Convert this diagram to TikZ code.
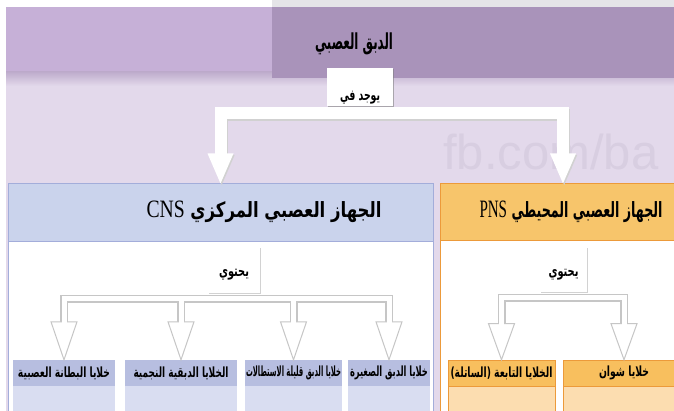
\documentclass[tikz,border=0pt]{standalone}
\usepackage{fontspec}
\usepackage{graphicx}
\setmainfont{Liberation Serif}
\newfontfamily\ar[Script=Arabic]{DejaVu Sans}
\newfontfamily\wmfont{Liberation Sans}
\TeXXeTstate=1
\usetikzlibrary{arrows.meta,shadows}
\definecolor{bg}{HTML}{E3D9EB}
\definecolor{bandL}{HTML}{C6B0D7}
\definecolor{bandR}{HTML}{A993BA}
\definecolor{bandshadow}{HTML}{B9A6C8}
\definecolor{topgrey}{HTML}{E5E4E8}
\definecolor{cnshead}{HTML}{CAD3EC}
\definecolor{cnsborder}{HTML}{A3ADDA}
\definecolor{pnshead}{HTML}{F7C56B}
\definecolor{pnsborder}{HTML}{EC9A3A}
\definecolor{cbox}{HTML}{B7BEE0}
\definecolor{cboxlow}{HTML}{D9DDF1}
\definecolor{pbox}{HTML}{F8BF5E}
\definecolor{pboxlow}{HTML}{FCDDB0}
\definecolor{wmark}{HTML}{D8CEE1}
\newcommand{\artxt}[3]{\resizebox{#1pt}{\height}{\fontsize{#2}{#2}\ar\bfseries\selectfont #3}}
\tikzset{
  hdr/.style={inner sep=0pt, text=black},
  labbox/.style={fill=white, inner sep=0pt, drop shadow={shadow xshift=1.2pt, shadow yshift=-0.8pt, opacity=0.35, fill=black!50}},
  cbx/.style={fill=cbox, inner sep=0pt, minimum height=26pt},
  pbx/.style={fill=pbox, draw=pnsborder, line width=0.6pt, inner sep=0pt, minimum height=26pt},
  bigw/.style={draw=white, line width=12pt},
  gpass/.style={draw=gray!45, line width=8pt},
  wpass/.style={draw=white, line width=5pt},
  tipc/.style={fill=white, draw=gray!45, line width=1pt, line join=miter}
}
\begin{document}
\begin{tikzpicture}[x=1pt,y=-1pt]
\useasboundingbox (0,0) rectangle (674,411);
% background
\fill[bg] (0,0) rectangle (674,411);
\fill[white] (0,0) rectangle (272,7);
\fill[topgrey] (272,0) rectangle (674,7);
\fill[white] (0,0) rectangle (6,411);
\shade[top color=bandshadow, bottom color=bg] (6,70) rectangle (674,86);
\fill[bandL] (6,7) rectangle (272,71);
\fill[bandR] (272,7) rectangle (674,78);
% watermark
\node[anchor=base west, inner sep=0pt, text=wmark, font=\wmfont\fontsize{49}{49}\selectfont] (wm) at (443,170) {fb.com/ba};
% title
\node[hdr] (title) at (354,44) {\artxt{78}{22}{\beginR الدبق العصبي\endR}};
% main boxes
\draw[cnsborder, fill=white, line width=1pt] (8,184) rectangle (433,420);
\node[fill=cnshead, draw=cnsborder, line width=1pt, minimum width=425pt, minimum height=58pt, inner sep=0pt] (cns) at (220.5,213) {};
\node[hdr] (cnst) at (264,212) {\artxt{235}{21}{\beginR الجهاز العصبي المركزي {\rmfamily\mdseries\fontsize{25}{25}\selectfont CNS}\endR}};
\draw[pnsborder, fill=white, line width=1pt] (440,184) rectangle (690,420);
\node[fill=pnshead, draw=pnsborder, line width=1pt, minimum width=246pt, minimum height=57pt, inner sep=0pt] (pns) at (563,212.5) {};
\node[hdr] (pnst) at (571,212) {\artxt{183}{21}{\beginR الجهاز العصبي المحيطي {\rmfamily\mdseries\fontsize{25}{25}\selectfont PNS}\endR}};
% bottom boxes
\fill[cboxlow] (13,386) rectangle (115,415);
\fill[cboxlow] (125,386) rectangle (237,415);
\fill[cboxlow] (245,386) rectangle (342,415);
\fill[cboxlow] (348,386) rectangle (430,415);
\filldraw[fill=pboxlow, draw=pnsborder, line width=0.6pt] (448,386) rectangle (555,415);
\filldraw[fill=pboxlow, draw=pnsborder, line width=0.6pt] (563,386) rectangle (685,415);
\node[cbx, minimum width=102pt] (b1) at (64,373) {\artxt{92}{14}{\beginR خلايا البطانة العصبية\endR}};
\node[cbx, minimum width=112pt] (b2) at (181,373) {\artxt{95}{14}{\beginR الخلايا الدبقية النجمية\endR}};
\node[cbx, minimum width=97pt] (b3) at (293.5,373) {\artxt{95}{14}{\beginR خلايا الدبق قليلة الاستطالات\endR}};
\node[cbx, minimum width=82pt] (b4) at (389,373) {\artxt{78}{14}{\beginR خلايا الدبق الصغيرة\endR}};
\node[pbx, minimum width=107pt] (b5) at (501.5,373) {\artxt{102}{14}{\beginR الخلايا التابعة (الساتلة)\endR}};
\node[pbx, minimum width=122pt] (b6) at (624,373) {\artxt{50}{14}{\beginR خلايا شوان\endR}};
% labels
\node[labbox, anchor=base, text height=33pt, text depth=5pt, minimum width=66pt] (yujad) at (360,101) {\artxt{40}{15}{\beginR يوجد في\endR}};
\node[labbox, anchor=base, text height=30pt, text depth=16pt, minimum width=52pt] (cnslab) at (234,277) {\artxt{30}{15}{\beginR يحتوي\endR}};
\node[labbox, anchor=base, text height=30pt, text depth=15pt, minimum width=47pt] (pnslab) at (563.5,277) {\artxt{30}{15}{\beginR يحتوي\endR}};
\coordinate (topbar) at (360,113.5);
\coordinate (cbar) at (234,299);
\coordinate (pbar) at (563.5,298);
% top arrows (shadow, then white)
\begin{scope}[transform canvas={xshift=1.2pt,yshift=-1.5pt}]
\draw[draw=black!18, line width=12pt] (yujad.south |- topbar) -| ([yshift=29pt]cns.north);
\draw[draw=black!18, line width=12pt] (yujad.south |- topbar) -| ([yshift=29pt]pns.north);
\fill[black!18] ([xshift=-13pt,yshift=30pt]cns.north) -- ([xshift=13pt,yshift=30pt]cns.north) -- (cns.north) -- cycle;
\fill[black!18] ([xshift=-13pt,yshift=30pt]pns.north) -- ([xshift=13pt,yshift=30pt]pns.north) -- (pns.north) -- cycle;
\end{scope}
\draw[bigw] (yujad.south |- topbar) -| ([yshift=29pt]cns.north);
\draw[bigw] (yujad.south |- topbar) -| ([yshift=29pt]pns.north);
\fill[white] ([xshift=-13pt,yshift=30pt]cns.north) -- ([xshift=13pt,yshift=30pt]cns.north) -- (cns.north) -- cycle;
\fill[white] ([xshift=-13pt,yshift=30pt]pns.north) -- ([xshift=13pt,yshift=30pt]pns.north) -- (pns.north) -- cycle;
\node[labbox, anchor=base, text height=33pt, text depth=5pt, minimum width=66pt] at (360,101) {\artxt{40}{15}{\beginR يوجد في\endR}};
% connectors
\foreach \bx in {b1,b2,b3,b4}{
  \draw[gpass] (cnslab.south |- cbar) -| ([yshift=36pt]\bx.north);
}
\foreach \bx in {b5,b6}{
  \draw[gpass] (pnslab.south |- pbar) -| ([yshift=34pt]\bx.north);
}
\foreach \bx in {b1,b2,b3,b4}{
  \draw[tipc] ([xshift=-13pt,yshift=38pt]\bx.north) -- ([xshift=13pt,yshift=38pt]\bx.north) -- (\bx.north) -- cycle;
}
\foreach \bx in {b5,b6}{
  \draw[tipc] ([xshift=-13pt,yshift=36pt]\bx.north) -- ([xshift=13pt,yshift=36pt]\bx.north) -- (\bx.north) -- cycle;
}
\foreach \bx in {b1,b2,b3,b4}{
  \draw[wpass] (cnslab.south |- cbar) -| ([yshift=36pt]\bx.north);
}
\foreach \bx in {b5,b6}{
  \draw[wpass] (pnslab.south |- pbar) -| ([yshift=34pt]\bx.north);
}
\end{tikzpicture}
\end{document}
